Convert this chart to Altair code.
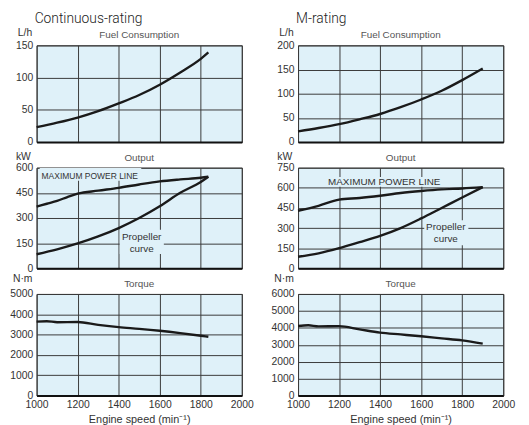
import altair as alt
import pandas as pd

FONT = "Liberation Sans"
BG = "#dff1f9"
GRID = "#3a3a3a"
LINE = "#1a1a1a"

rpm_ticks = [1000, 1200, 1400, 1600, 1800, 2000]

# ---------------- Continuous-rating ----------------
c_fuel_rpm = [1000, 1100, 1200, 1300, 1400, 1500, 1600, 1700, 1800, 1837]
c_fuel = [23, 30, 38, 48, 60, 73, 89, 108, 129, 139]

c_maxp_rpm = [1000, 1050, 1100, 1150, 1200, 1300, 1400, 1500, 1600, 1700, 1800, 1837]
c_maxp = [368, 385, 402, 425, 445, 463, 480, 500, 518, 530, 540, 546]

c_prop_rpm = [1000, 1100, 1200, 1300, 1400, 1500, 1600, 1700, 1800, 1837]
c_prop = [84, 113, 148, 190, 240, 300, 370, 450, 515, 546]

c_torque_rpm = [1000, 1050, 1100, 1200, 1300, 1400, 1500, 1600, 1700, 1800, 1837]
c_torque = [3640, 3660, 3610, 3620, 3480, 3365, 3285, 3190, 3075, 2945, 2895]

# ---------------- M-rating ----------------
m_fuel_rpm = [1000, 1100, 1200, 1300, 1400, 1500, 1600, 1700, 1800, 1900]
m_fuel = [22, 29, 37, 47, 58, 72, 88, 106, 128, 152]

m_maxp_rpm = [1000, 1100, 1200, 1300, 1400, 1500, 1600, 1700, 1800, 1900]
m_maxp = [429, 466, 512, 524, 541, 561, 576, 588, 595, 605]

m_prop_rpm = [1000, 1100, 1200, 1300, 1400, 1500, 1600, 1700, 1800, 1900]
m_prop = [86, 112, 150, 195, 242, 300, 372, 450, 528, 605]

m_torque_rpm = [1000, 1050, 1100, 1200, 1300, 1400, 1500, 1600, 1700, 1800, 1900]
m_torque = [4110, 4150, 4090, 4100, 3910, 3720, 3610, 3500, 3380, 3260, 3070]

# y-axis ticks
c_fuel_ticks = [0, 50, 100, 150]
m_fuel_ticks = [0, 50, 100, 150, 200]
c_out_ticks = [0, 150, 300, 450, 600]
m_out_ticks = [0, 150, 300, 450, 600, 750]
c_tq_ticks = [0, 1000, 2000, 3000, 4000, 5000]
m_tq_ticks = [0, 1000, 2000, 3000, 4000, 5000, 6000]

# annotation texts (label, rpm, value, size, align) and their backing boxes
c_notes = [("MAXIMUM POWER LINE", 1024, 535, 8.6, "left"),
           ("Propeller", 1512, 168, 10, "center"),
           ("curve", 1512, 100, 10, "center")]
c_boxes = [(1015, 1510, 522, 598), (1405, 1620, 85, 230)]
m_notes = [("MAXIMUM POWER LINE", 1420, 623, 10, "center"),
           ("Propeller", 1720, 283, 10, "center"),
           ("curve", 1720, 193, 10, "center")]
m_boxes = [(1110, 1730, 607, 680), (1615, 1830, 172, 358)]

W = 208


def series_df(pairs):
    rows = []
    for name, xs, ys in pairs:
        for a, b in zip(xs, ys):
            rows.append({"rpm": a, "val": b, "s": name})
    return pd.DataFrame(rows)


def text_layer(txt, dx, dy, size, color, align="left", font=FONT, weight=400):
    return alt.Chart(pd.DataFrame({"t": [txt]})).mark_text(
        align=align, baseline="alphabetic", font=font, fontSize=size, color=color,
        fontWeight=weight
    ).encode(text="t:N", x=alt.value(dx), y=alt.value(dy))


def panel(pairs, ymax, yticks, unit, unit_dx, unit_dy, subtitle, height,
          col_title=None, bottom=False, notes=None, boxes=None):
    xkw = dict(values=rpm_ticks, grid=True, gridColor=GRID, gridWidth=1, ticks=False,
               domain=True, domainColor="#111111", domainWidth=2, labels=bottom,
               labelFont=FONT, labelFontSize=10.5, labelColor="#333333", labelPadding=4,
               labelFlush=False, format="d", title="")
    if bottom:
        xkw.update(title="Engine speed (min\u207b\u00b9)", titleFont=FONT, titleFontSize=11,
                   titleFontWeight="normal", titleColor="#333333", titlePadding=4)
    X = alt.X("rpm:Q", scale=alt.Scale(domain=[1000, 2000], nice=False, zero=False),
              axis=alt.Axis(**xkw))
    Y = alt.Y("val:Q", scale=alt.Scale(domain=[0, ymax], nice=False),
              axis=alt.Axis(values=yticks, grid=True, gridColor=GRID, gridWidth=1, ticks=False,
                            domain=False, labelFont=FONT, labelFontSize=10.5, format="d",
                            labelColor="#333333", labelPadding=4, title=""))
    layers = []
    if boxes:
        bdf = pd.DataFrame([{"rpm": a, "rpm2": b, "val": c, "val2": d} for a, b, c, d in boxes])
        layers.append(alt.Chart(bdf).mark_rect(color=BG).encode(
            x=X, x2="rpm2:Q", y=Y, y2="val2:Q"))
    layers.append(alt.Chart(series_df(pairs)).mark_line(
        interpolate="monotone", color=LINE, strokeWidth=2.4).encode(x=X, y=Y, detail="s:N"))
    if notes:
        for txt, r, v, size, align in notes:
            layers.append(alt.Chart(pd.DataFrame({"t": [txt], "rpm": [r], "val": [v]})).mark_text(
                align=align, baseline="alphabetic", font=FONT, fontSize=size, color="#333333"
            ).encode(text="t:N", x=X, y=Y))
    layers.append(text_layer(unit, unit_dx, unit_dy, 10.5, "#333333"))
    layers.append(text_layer(subtitle, W / 2, -7, 10, "#555555", align="center"))
    if col_title:
        layers.append(text_layer(col_title, -2, -23, 14, "#222222", font="Roboto", weight=300))
    return alt.layer(*layers).properties(width=W, height=height)


c1 = panel([("fuel", c_fuel_rpm, c_fuel)], 150, c_fuel_ticks, "L/h", -19, -9,
           "Fuel Consumption", 98, col_title="Continuous-rating")
c2 = panel([("max", c_maxp_rpm, c_maxp), ("prop", c_prop_rpm, c_prop)], 600, c_out_ticks,
           "kW", -21, -8, "Output", 102, notes=c_notes, boxes=c_boxes)
c3 = panel([("tq", c_torque_rpm, c_torque)], 5000, c_tq_ticks, "N\u00b7m", -24, -12,
           "Torque", 103, bottom=True)

m1 = panel([("fuel", m_fuel_rpm, m_fuel)], 200, m_fuel_ticks, "L/h", -19, -9,
           "Fuel Consumption", 98, col_title="M-rating")
m2 = panel([("max", m_maxp_rpm, m_maxp), ("prop", m_prop_rpm, m_prop)], 750, m_out_ticks,
           "kW", -21, -8, "Output", 102, notes=m_notes, boxes=m_boxes)
m3 = panel([("tq", m_torque_rpm, m_torque)], 6000, m_tq_ticks, "N\u00b7m", -24, -12,
           "Torque", 103, bottom=True)

chart = alt.concat(c1, m1, c2, m2, c3, m3, columns=2,
                   spacing={"row": 26, "column": 57}, bounds="flush").properties(
    padding={"left": 1, "top": 0, "right": 5, "bottom": 0},
    background="white"
).configure_view(fill=BG, stroke="#333333", strokeWidth=1)

chart.save("out.html", embed_options={"renderer": "svg", "actions": False})
